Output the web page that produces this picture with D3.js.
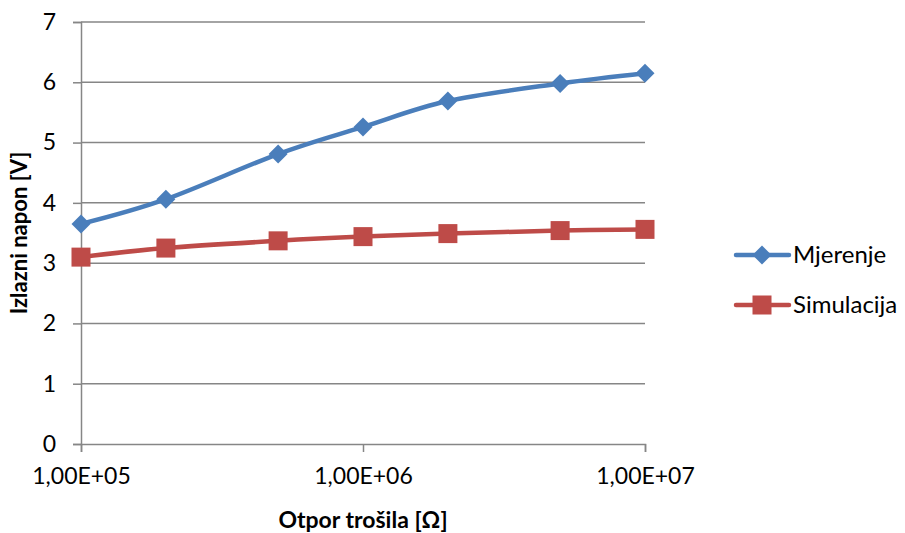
<!DOCTYPE html>
<html><head><meta charset="utf-8">
<script src="https://cdn.jsdelivr.net/npm/d3@7"></script>
<style>body{margin:0;background:#fff}svg{display:block}text{font-family:Lato,"Open Sans",sans-serif;fill:#000}</style>
</head><body><svg id="c" width="905" height="533"></svg>
<script>
const xValues = [1e5, 2e5, 5e5, 1e6, 2e6, 5e6, 1e7];
const mjerenje = [3.65, 4.06, 4.81, 5.26, 5.69, 5.98, 6.15];
const simulacija = [3.10, 3.25, 3.37, 3.44, 3.49, 3.54, 3.56];
const seriesNames = ["Mjerenje", "Simulacija"];
const seriesColors = ["#4A7EBB", "#BE4B48"];
const xTicks = [1e5, 1e6, 1e7];
const xTickLabels = ["1,00E+05", "1,00E+06", "1,00E+07"];
const yTicks = [0, 1, 2, 3, 4, 5, 6, 7];

const svg = d3.select("#c");
const L = 81, R = 645, T = 22, B = 444;
const x = d3.scaleLog().domain([1e5, 1e7]).range([L, R]);
const y = d3.scaleLinear().domain([0, 7]).range([B, T]);
const grey = "#868686";
const FS = 23;

// gridlines
svg.append("g").selectAll("line").data(yTicks.filter(d => d > 0)).join("line")
  .attr("x1", L).attr("x2", R).attr("y1", d => y(d)).attr("y2", d => y(d))
  .attr("stroke", grey).attr("stroke-width", 1.5);

// y axis
const ya = svg.append("g").attr("transform", `translate(${L},0)`)
  .call(d3.axisLeft(y).tickValues(yTicks).tickFormat(d3.format("d")).tickSize(8).tickPadding(17));
ya.select(".domain").attr("stroke", grey).attr("stroke-width", 1.5);
ya.selectAll(".tick line").attr("stroke", grey).attr("stroke-width", 1.5);
ya.selectAll("text").attr("font-size", FS).style("font-family", "Lato");

// x axis
const xa = svg.append("g").attr("transform", `translate(0,${B})`)
  .call(d3.axisBottom(x).tickValues(xTicks).tickSize(8).tickPadding(16)
    .tickFormat((d, i) => xTickLabels[i]));
xa.select(".domain").attr("stroke", grey).attr("stroke-width", 1.5);
xa.selectAll(".tick line").attr("stroke", grey).attr("stroke-width", 1.5);
xa.selectAll("text").attr("font-size", FS).style("font-family", "Lato");

// titles
svg.append("text").attr("x", 363).attr("y", 528).attr("text-anchor", "middle")
  .attr("font-size", 23).attr("font-weight", "bold").text("Otpor trošila [Ω]");
svg.append("text").attr("transform", "translate(27,233) rotate(-90)").attr("text-anchor", "middle")
  .attr("font-size", 22).attr("font-weight", "bold").text("Izlazni napon [V]");

const line = d3.line().x(d => x(d[0])).y(d => y(d[1])).curve(d3.curveCardinal.tension(0));
const data = [mjerenje, simulacija].map(vals => xValues.map((v, i) => [v, vals[i]]));

const diamond = s => `M0,${-s}L${s},0L0,${s}L${-s},0Z`;
data.forEach((pts, k) => {
  const g = svg.append("g");
  g.append("path").attr("d", line(pts)).attr("fill", "none")
    .attr("stroke", seriesColors[k]).attr("stroke-width", 4.5).attr("stroke-linecap", "round");
  if (k === 0) {
    g.selectAll("path.m").data(pts).join("path").attr("class", "m")
      .attr("d", diamond(9.5)).attr("transform", d => `translate(${x(d[0])},${y(d[1])})`)
      .attr("fill", seriesColors[k]);
  } else {
    g.selectAll("rect").data(pts).join("rect")
      .attr("x", d => x(d[0]) - 9.5).attr("y", d => y(d[1]) - 9.5)
      .attr("width", 19).attr("height", 19).attr("fill", seriesColors[k]);
  }
});

// legend
const lg = svg.append("g");
seriesNames.forEach((n, k) => {
  const cy = 255 + k * 50;
  lg.append("line").attr("x1", 736).attr("x2", 789).attr("y1", cy).attr("y2", cy)
    .attr("stroke", seriesColors[k]).attr("stroke-width", 4.5).attr("stroke-linecap", "round");
  if (k === 0) lg.append("path").attr("d", diamond(9.5)).attr("transform", `translate(762,${cy})`).attr("fill", seriesColors[k]);
  else lg.append("rect").attr("x", 752.5).attr("y", cy - 9.5).attr("width", 19).attr("height", 19).attr("fill", seriesColors[k]);
  lg.append("text").attr("x", 793).attr("y", cy).attr("dy", "0.35em").attr("font-size", 24).text(n);
});
</script></body></html>
